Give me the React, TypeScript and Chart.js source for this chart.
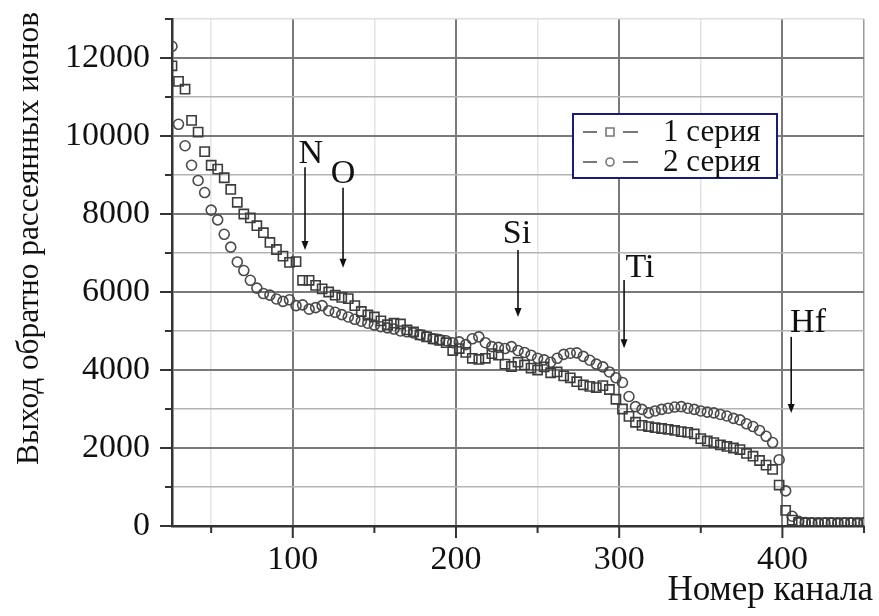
import React, { useEffect, useRef } from 'react';
import { Chart, registerables } from 'chart.js';

Chart.register(...registerables);

// Channel numbers shared by both measurement series
const channels = [
  26, 30, 34, 38, 42, 46, 50, 54, 58, 62,
  66, 70, 74, 78, 82, 86, 90, 94, 98, 102,
  106, 110, 114, 118, 122, 126, 130, 134, 138, 142,
  146, 150, 154, 158, 162, 166, 170, 174, 178, 182,
  186, 190, 194, 198, 202, 206, 210, 214, 218, 222,
  226, 230, 234, 238, 242, 246, 250, 254, 258, 262,
  266, 270, 274, 278, 282, 286, 290, 294, 298, 302,
  306, 310, 314, 318, 322, 326, 330, 334, 338, 342,
  346, 350, 354, 358, 362, 366, 370, 374, 378, 382,
  386, 390, 394, 398, 402, 406, 410, 414, 418, 422,
  426, 430, 434, 438, 442, 446, 450,
];

// Backscattered ion yield, series 1 (squares)
const series1 = [
  11800, 11400, 11200, 10400, 10100, 9600, 9250, 9150, 8930, 8630,
  8300, 8000, 7900, 7700, 7520, 7270, 7090, 6920, 6760, 6780,
  6300, 6300, 6170, 6080, 6000, 5920, 5860, 5830, 5650, 5500,
  5410, 5360, 5260, 5160, 5200, 5180, 5030, 4980, 4900, 4850,
  4800, 4760, 4700, 4500, 4550, 4450, 4300, 4270, 4300, 4420,
  4380, 4150, 4090, 4200, 4130, 4050, 4000, 4080, 3930, 3950,
  3850, 3800, 3700, 3620, 3580, 3550, 3600, 3500, 3250, 3000,
  2810, 2660, 2580, 2550, 2520, 2500, 2480, 2450, 2420, 2400,
  2360, 2240, 2180, 2140, 2080, 2040, 2000, 1960, 1860, 1790,
  1680, 1560, 1450, 1050, 400, 150, 90, 80, 80, 70,
  80, 80, 70, 80, 80, 70, 80,
];

// Backscattered ion yield, series 2 (circles)
const series2 = [
  12300, 10300, 9750, 9250, 8860, 8550, 8100, 7850, 7480, 7150,
  6770, 6550, 6300, 6100, 5960, 5920, 5820, 5760, 5800, 5650,
  5670, 5560, 5600, 5650, 5520, 5480, 5420, 5360, 5300, 5250,
  5200, 5150, 5110, 5080, 5050, 5000, 4980, 4950, 4900, 4860,
  4800, 4780, 4750, 4700, 4720, 4650, 4800, 4850, 4700, 4600,
  4580, 4550, 4600, 4500, 4450, 4380, 4300, 4260, 4200, 4300,
  4400, 4430, 4440, 4350, 4250, 4150, 4080, 3950, 3800, 3680,
  3320, 3060, 2990, 2900, 2950, 2990, 3020, 3050, 3060, 3020,
  2990, 2950, 2920, 2900, 2860, 2820, 2760, 2720, 2620, 2550,
  2450, 2300, 2140, 1700, 900, 250, 120, 90, 80, 80,
  80, 80, 80, 80, 80, 80, 80,
];

const seriesLabels = ['1 серия', '2 серия'];

// Axis ticks
const xTickValues = [50, 100, 150, 200, 250, 300, 350, 400, 450];
const xTickLabels = [100, 200, 300, 400];
const yTickLabels = [0, 2000, 4000, 6000, 8000, 10000, 12000];

const xTitle = 'Номер канала';
const yTitle = 'Выход обратно рассеянных ионов';

// Element markers: arrow channel, arrow start/end yield, label position
const elementNames = ['N', 'O', 'Si', 'Ti', 'Hf'];
const elementArrowCh = [107.5, 130.8, 238, 303, 405.4];
const elementArrowTop = [9200, 8670, 7080, 6310, 4850];
const elementArrowTip = [7080, 6620, 5360, 4560, 2900];
const elementLabelCh = [111, 130.8, 237.4, 312.7, 415.7];
const elementLabelY = [9590, 9080, 7540, 6670, 5260];

const SERIF = '"Liberation Serif", "Times New Roman", serif';

const overlay = {
  id: 'overlay',
  afterDraw(chart: any) {
    const { ctx, chartArea } = chart;
    const x = chart.scales.x;
    const y = chart.scales.y;
    ctx.save();

    // tick marks outside the axes
    ctx.strokeStyle = '#333';
    ctx.lineWidth = 2;
    ctx.beginPath();
    for (const t of x.ticks) {
      const px = x.getPixelForValue(t.value);
      const len = t.value % 100 === 0 ? 12 : 7;
      ctx.moveTo(px, chartArea.bottom);
      ctx.lineTo(px, chartArea.bottom + len);
    }
    for (const t of y.ticks) {
      const py = y.getPixelForValue(t.value);
      const len = t.value % 2000 === 0 ? 12 : 7;
      ctx.moveTo(chartArea.left - len, py);
      ctx.lineTo(chartArea.left, py);
    }
    ctx.stroke();

    // axis titles
    ctx.fillStyle = '#111';
    ctx.font = `35px ${SERIF}`;
    ctx.textAlign = 'right';
    ctx.textBaseline = 'alphabetic';
    ctx.fillText(xTitle, chart.width - 6, 600);

    ctx.save();
    ctx.translate(38, 465);
    ctx.rotate(-Math.PI / 2);
    ctx.textAlign = 'left';
    ctx.font = `32px ${SERIF}`;
    ctx.fillText(yTitle, 0, 0, 453);
    ctx.restore();

    // element arrows and labels
    ctx.strokeStyle = '#111';
    ctx.fillStyle = '#111';
    ctx.lineWidth = 1.6;
    elementNames.forEach((name, i) => {
      const ax = x.getPixelForValue(elementArrowCh[i]);
      const y0 = y.getPixelForValue(elementArrowTop[i]);
      const y1 = y.getPixelForValue(elementArrowTip[i]);
      ctx.beginPath();
      ctx.moveTo(ax, y0);
      ctx.lineTo(ax, y1 - 6);
      ctx.stroke();
      ctx.beginPath();
      ctx.moveTo(ax, y1);
      ctx.lineTo(ax - 3.5, y1 - 9);
      ctx.lineTo(ax + 3.5, y1 - 9);
      ctx.closePath();
      ctx.fill();
      ctx.font = `34px ${SERIF}`;
      ctx.textAlign = 'center';
      ctx.textBaseline = 'middle';
      ctx.fillText(name, x.getPixelForValue(elementLabelCh[i]), y.getPixelForValue(elementLabelY[i]) + 2);
    });

    // legend box
    const lx = chartArea.left + 401;
    const ly = chartArea.top + 95;
    const lw = 204;
    const lh = 64;
    ctx.fillStyle = '#fff';
    ctx.fillRect(lx, ly, lw, lh);
    ctx.strokeStyle = '#1c1c78';
    ctx.lineWidth = 2;
    ctx.strokeRect(lx, ly, lw, lh);
    chart.data.datasets.forEach((ds: any, i: number) => {
      const cy = ly + 18 + i * 30;
      const mx = lx + 37;
      ctx.strokeStyle = '#777';
      ctx.lineWidth = 2;
      ctx.beginPath();
      ctx.moveTo(lx + 10, cy);
      ctx.lineTo(lx + 24, cy);
      ctx.moveTo(lx + 50, cy);
      ctx.lineTo(lx + 65, cy);
      ctx.stroke();
      ctx.lineWidth = 1.6;
      ctx.beginPath();
      if (ds.pointStyle === 'rect') {
        ctx.rect(mx - 4, cy - 4, 8, 8);
      } else {
        ctx.arc(mx, cy, 4, 0, Math.PI * 2);
      }
      ctx.stroke();
      ctx.fillStyle = '#111';
      ctx.font = `31px ${SERIF}`;
      ctx.textAlign = 'left';
      ctx.textBaseline = 'middle';
      ctx.fillText(ds.label, lx + 90, cy + 1);
    });

    ctx.restore();
  },
};

export default function App() {
  const ref = useRef<HTMLCanvasElement>(null);

  useEffect(() => {
    const canvas = ref.current;
    if (!canvas) return;
    const chart = new Chart(canvas, {
      type: 'scatter',
      data: {
        datasets: [
          {
            label: seriesLabels[0],
            data: channels.map((c, i) => ({ x: c, y: series1[i] })),
            pointStyle: 'rect',
            pointRadius: 6.5,
            borderColor: '#3c3c3c',
            backgroundColor: 'rgba(0,0,0,0)',
            borderWidth: 1.6,
            showLine: false,
          },
          {
            label: seriesLabels[1],
            data: channels.map((c, i) => ({ x: c, y: series2[i] })),
            pointStyle: 'circle',
            pointRadius: 5,
            borderColor: '#4a4a4a',
            backgroundColor: 'rgba(0,0,0,0)',
            borderWidth: 1.6,
            showLine: false,
          },
        ],
      },
      options: {
        animation: false,
        responsive: false,
        events: [],
        layout: { padding: { top: 19, right: 15, left: 0, bottom: 0 } },
        plugins: {
          legend: { display: false },
          tooltip: { enabled: false },
        },
        scales: {
          x: {
            type: 'linear',
            min: 26,
            max: 450,
            afterBuildTicks: (s: any) => {
              s.ticks = xTickValues.map((v) => ({ value: v }));
            },
            afterFit: (s: any) => {
              s.height = 90;
              s.paddingLeft = 0;
              s.paddingRight = 0;
            },
            border: { display: true, color: '#333', width: 2.5 },
            grid: {
              drawTicks: false,
              color: (c: any) =>
                c.tick && c.tick.value === 450 ? '#9a9a9a' : c.tick && c.tick.value % 100 === 0 ? '#7a7a7a' : '#e4e4e4',
              lineWidth: (c: any) => (c.tick && c.tick.value % 100 === 0 ? 2 : 1.5),
            },
            ticks: {
              autoSkip: false,
              maxRotation: 0,
              padding: 14,
              color: '#111',
              font: { family: SERIF, size: 34 },
              callback: (v: any) => (xTickLabels.includes(Number(v)) ? String(v) : ''),
            },
          },
          y: {
            type: 'linear',
            min: 0,
            max: 13000,
            afterFit: (s: any) => {
              s.width = 172;
              s.paddingTop = 0;
              s.paddingBottom = 0;
            },
            border: { display: true, color: '#333', width: 2.5 },
            grid: {
              drawTicks: false,
              color: (c: any) =>
                c.tick && c.tick.value === 13000 ? '#dedede' : c.tick && c.tick.value % 2000 === 0 ? '#7a7a7a' : '#b4b4b4',
              lineWidth: (c: any) => (c.tick && c.tick.value % 2000 === 0 ? 2 : 1.5),
            },
            ticks: {
              stepSize: 1000,
              autoSkip: false,
              padding: 22,
              color: '#111',
              font: { family: SERIF, size: 34 },
              callback: (v: any) => (yTickLabels.includes(Number(v)) ? String(v) : ''),
            },
          },
        },
      },
      plugins: [overlay],
    } as any);
    return () => chart.destroy();
  }, []);

  return (
    <div style={{ position: 'fixed', left: 0, top: 0, width: 879, height: 616, background: '#fff' }}>
      <canvas ref={ref} width={879} height={616} style={{ display: 'block' }} />
    </div>
  );
}
